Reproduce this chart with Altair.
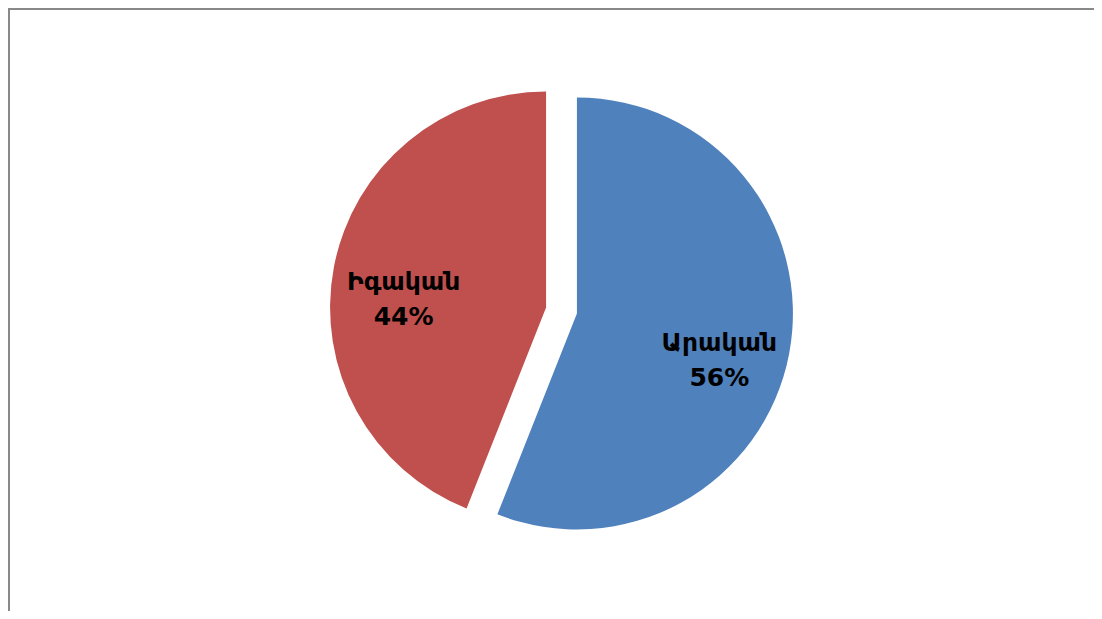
import altair as alt
import pandas as pd

categories = ["Արական", "Իգական"]
values = [56, 44]
order_idx = [1, 2]
colors = ["#4F81BD", "#C0504D"]

df = pd.DataFrame({"cat": categories, "value": values, "idx": order_idx})

W, H = 1086, 603
CX, CY = 553.5, 302.5
EXPLODE = 15.7
R = 216
LABEL_R = 145

base = alt.Chart(df).transform_window(
    cum="sum(value)", sort=[alt.SortField("idx")], frame=[None, 0]
).transform_joinaggregate(
    total="sum(value)"
).transform_calculate(
    start="(datum.cum - datum.value) / datum.total * 2 * PI",
    end="datum.cum / datum.total * 2 * PI",
).transform_calculate(
    mid="(datum.start + datum.end) / 2"
).transform_calculate(
    cx=f"{CX} + {EXPLODE} * sin(datum.mid)",
    cy=f"{CY} - {EXPLODE} * cos(datum.mid)",
).transform_calculate(
    lx=f"datum.cx + {LABEL_R} * sin(datum.mid)",
    ly=f"datum.cy - {LABEL_R} * cos(datum.mid) + 2",
    lab="[datum.cat, format(datum.value / datum.total, '.0%')]",
)

arcs = base.mark_arc(radius=R).encode(
    theta=alt.Theta("start:Q", scale=None),
    theta2="end:Q",
    x=alt.X("cx:Q", scale=None),
    y=alt.Y("cy:Q", scale=None),
    color=alt.Color("cat:N", scale=alt.Scale(domain=categories, range=colors), legend=None),
)

labels = base.mark_text(
    font="DejaVu Sans",
    fontWeight="bold",
    fontSize=25,
    lineHeight=35,
    align="center",
    baseline="middle",
    color="black",
).encode(
    x=alt.X("lx:Q", scale=None),
    y=alt.Y("ly:Q", scale=None),
    text=alt.Text("lab:N"),
)

border_top = alt.Chart(df).mark_rule(color="#898989", strokeWidth=2).encode(
    x=alt.value(0), x2=alt.value(W), y=alt.value(1)
)
border_left = alt.Chart(df).mark_rule(color="#898989", strokeWidth=2).encode(
    x=alt.value(1), y=alt.value(0), y2=alt.value(H)
)

chart = alt.layer(arcs, labels, border_top, border_left).properties(
    width=W, height=H,
    autosize=alt.AutoSizeParams(type="none"),
    padding=0,
).configure_view(stroke=None)

chart.save("out.html", embed_options={"renderer": "svg", "actions": False})
